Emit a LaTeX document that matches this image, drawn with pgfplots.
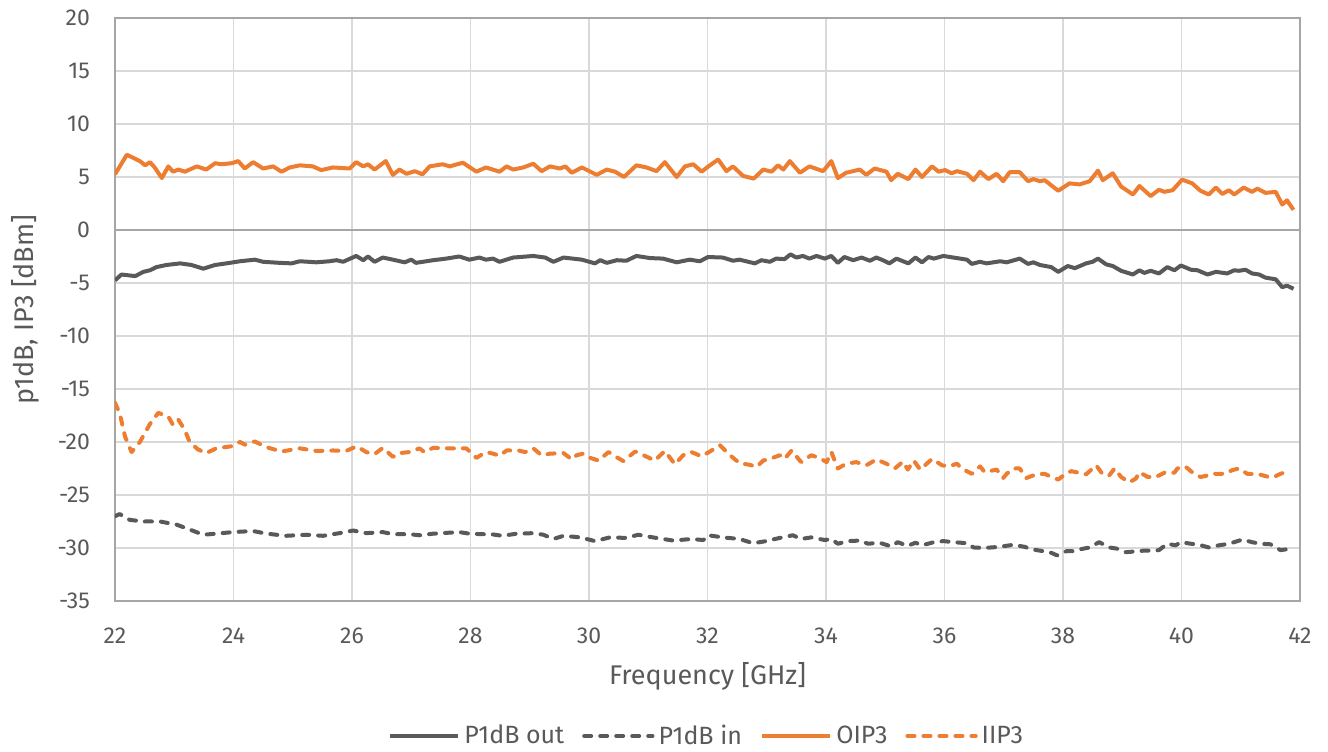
\documentclass[border=0pt]{standalone}
\usepackage{fontspec}
\setmainfont{Fira Sans}
\usepackage{pgfplots}
\usepackage{pgfplotstable}
\pgfplotsset{compat=1.18}

\definecolor{xlgray}{HTML}{595959}
\definecolor{xlorange}{HTML}{ED7D31}
\definecolor{gridc}{HTML}{D9D9D9}
\definecolor{axisc}{HTML}{A6A6A6}
\definecolor{txtc}{HTML}{595959}

% P1dB out
\pgfplotstableread{
f v
22.00 -4.75
22.11 -4.2
22.34 -4.35
22.48 -3.95
22.59 -3.8
22.70 -3.5
22.87 -3.3
23.10 -3.15
23.29 -3.3
23.49 -3.65
23.69 -3.3
23.88 -3.15
24.11 -2.95
24.36 -2.8
24.50 -3.0
24.78 -3.1
24.98 -3.15
25.12 -2.95
25.40 -3.05
25.62 -2.95
25.74 -2.85
25.85 -3.0
26.07 -2.45
26.19 -2.85
26.27 -2.5
26.38 -3.0
26.52 -2.6
26.69 -2.8
26.89 -3.05
27.00 -2.8
27.08 -3.1
27.37 -2.85
27.59 -2.7
27.81 -2.5
27.98 -2.8
28.15 -2.6
28.26 -2.8
28.38 -2.7
28.49 -3.0
28.72 -2.6
29.06 -2.45
29.26 -2.6
29.40 -3.0
29.57 -2.6
29.88 -2.8
30.10 -3.15
30.19 -2.85
30.30 -3.1
30.47 -2.85
30.63 -2.9
30.80 -2.45
31.03 -2.65
31.25 -2.7
31.48 -3.05
31.70 -2.8
31.87 -2.95
32.01 -2.55
32.26 -2.6
32.43 -2.9
32.54 -2.8
32.80 -3.15
32.91 -2.85
33.05 -3.0
33.16 -2.7
33.30 -2.75
33.40 -2.3
33.50 -2.6
33.61 -2.45
33.72 -2.7
33.84 -2.45
33.98 -2.7
34.09 -2.45
34.20 -3.1
34.31 -2.55
34.46 -2.85
34.60 -2.6
34.74 -2.9
34.85 -2.6
34.96 -2.85
35.07 -3.15
35.19 -2.7
35.39 -3.15
35.51 -2.6
35.62 -3.05
35.73 -2.55
35.82 -2.7
35.98 -2.45
36.15 -2.6
36.38 -2.8
36.46 -3.2
36.60 -3.0
36.71 -3.15
36.94 -2.95
37.05 -3.05
37.27 -2.7
37.41 -3.2
37.50 -3.05
37.61 -3.3
37.80 -3.5
37.92 -3.95
38.08 -3.4
38.20 -3.6
38.39 -3.15
38.50 -3.0
38.59 -2.7
38.73 -3.25
38.84 -3.4
38.98 -3.85
39.18 -4.2
39.29 -3.8
39.37 -4.05
39.48 -3.85
39.62 -4.1
39.76 -3.5
39.88 -3.8
39.99 -3.35
40.16 -3.75
40.27 -3.8
40.44 -4.2
40.58 -3.95
40.77 -4.1
40.89 -3.8
40.97 -3.85
41.08 -3.75
41.19 -4.1
41.31 -4.2
41.42 -4.5
41.59 -4.65
41.70 -5.4
41.78 -5.25
41.89 -5.55
}\pout

% P1dB in
\pgfplotstableread{
f v
22.00 -27.0
22.08 -26.8
22.25 -27.35
22.48 -27.5
22.76 -27.5
23.04 -27.8
23.21 -28.15
23.49 -28.75
23.71 -28.65
23.99 -28.5
24.33 -28.4
24.56 -28.65
24.89 -28.85
25.23 -28.75
25.51 -28.85
25.79 -28.6
26.02 -28.35
26.24 -28.6
26.52 -28.5
26.69 -28.7
26.97 -28.7
27.14 -28.8
27.37 -28.65
27.81 -28.5
27.98 -28.65
28.21 -28.7
28.35 -28.7
28.54 -28.85
28.78 -28.65
29.06 -28.6
29.23 -28.75
29.40 -29.15
29.57 -28.85
29.85 -29.0
30.10 -29.35
30.35 -29.0
30.63 -29.05
30.83 -28.75
31.08 -29.0
31.42 -29.3
31.73 -29.15
31.93 -29.25
32.01 -28.8
32.26 -29.0
32.54 -29.15
32.77 -29.55
32.99 -29.35
33.22 -29.05
33.44 -28.8
33.58 -29.15
33.75 -29.0
33.98 -29.25
34.09 -29.15
34.20 -29.6
34.37 -29.35
34.57 -29.3
34.71 -29.6
34.90 -29.5
35.10 -29.85
35.21 -29.45
35.38 -29.8
35.51 -29.5
35.62 -29.75
35.82 -29.45
35.98 -29.35
36.15 -29.45
36.38 -29.55
36.49 -29.95
36.66 -30.0
36.91 -29.9
37.16 -29.7
37.36 -29.9
37.44 -30.1
37.61 -30.25
37.78 -30.4
37.90 -30.7
38.06 -30.3
38.17 -30.3
38.31 -30.1
38.45 -29.95
38.61 -29.45
38.78 -29.95
38.90 -30.05
39.06 -30.4
39.26 -30.3
39.37 -30.25
39.54 -30.25
39.62 -30.2
39.76 -29.6
39.90 -29.75
39.99 -29.45
40.16 -29.6
40.30 -29.7
40.46 -29.95
40.63 -29.75
40.80 -29.6
40.89 -29.45
41.03 -29.2
41.19 -29.45
41.33 -29.6
41.50 -29.65
41.67 -30.2
41.81 -30.1
}\pin

% OIP3
\pgfplotstableread{
f v
22.00 5.25
22.20 7.1
22.31 6.8
22.42 6.5
22.51 6.1
22.59 6.4
22.67 5.9
22.79 4.9
22.90 6.0
22.98 5.5
23.07 5.7
23.18 5.5
23.38 6.0
23.54 5.7
23.69 6.3
23.80 6.2
23.97 6.3
24.08 6.5
24.19 5.8
24.33 6.4
24.50 5.8
24.67 6.0
24.81 5.5
24.95 5.9
25.12 6.1
25.34 6.0
25.48 5.65
25.68 5.9
25.96 5.8
26.07 6.4
26.19 6.0
26.27 6.2
26.38 5.7
26.57 6.5
26.69 5.2
26.80 5.7
26.92 5.3
27.06 5.55
27.19 5.25
27.31 6.0
27.53 6.2
27.65 6.0
27.87 6.35
28.10 5.5
28.26 5.9
28.49 5.5
28.61 6.0
28.72 5.7
28.89 5.9
29.06 6.25
29.20 5.55
29.34 6.0
29.51 5.8
29.60 6.0
29.71 5.4
29.88 5.9
30.13 5.2
30.30 5.7
30.44 5.5
30.59 5.0
30.80 6.1
30.97 5.9
31.14 5.55
31.28 6.4
31.48 5.0
31.62 6.0
31.76 6.2
31.90 5.5
32.04 6.1
32.18 6.65
32.32 5.55
32.43 6.0
32.60 5.1
32.78 4.85
32.94 5.7
33.08 5.5
33.19 6.1
33.28 5.7
33.39 6.5
33.56 5.4
33.72 6.0
33.95 5.55
34.09 6.5
34.20 4.9
34.34 5.4
34.57 5.7
34.68 5.2
34.82 5.8
35.02 5.5
35.10 4.7
35.21 5.3
35.39 4.8
35.51 5.7
35.62 5.0
35.79 6.0
35.90 5.5
36.01 5.65
36.12 5.35
36.21 5.55
36.38 5.3
36.49 4.7
36.60 5.5
36.74 4.8
36.88 5.3
36.99 4.6
37.10 5.45
37.27 5.45
37.41 4.6
37.50 4.8
37.61 4.6
37.69 4.7
37.92 3.7
38.11 4.4
38.28 4.3
38.45 4.6
38.59 5.6
38.67 4.7
38.84 5.35
38.98 4.1
39.18 3.35
39.29 4.15
39.48 3.2
39.62 3.8
39.71 3.6
39.85 3.75
40.01 4.75
40.18 4.4
40.32 3.7
40.46 3.35
40.58 4.0
40.69 3.4
40.80 3.75
40.89 3.35
41.05 4.0
41.19 3.6
41.28 3.9
41.42 3.5
41.59 3.6
41.70 2.4
41.78 2.8
41.89 1.9
}\oip

% IIP3
\pgfplotstableread{
f v
22.00 -16.3
22.08 -17.3
22.17 -19.5
22.28 -20.95
22.42 -20.0
22.59 -18.3
22.73 -17.25
22.90 -17.6
22.98 -18.4
23.07 -17.9
23.18 -18.9
23.26 -20.0
23.40 -20.7
23.54 -21.05
23.71 -20.6
23.97 -20.4
24.11 -20.0
24.19 -20.25
24.36 -19.95
24.56 -20.5
24.81 -20.9
25.12 -20.6
25.40 -20.85
25.68 -20.8
25.90 -20.85
26.08 -20.4
26.24 -20.95
26.38 -21.15
26.52 -20.55
26.69 -21.4
26.80 -21.05
26.97 -20.95
27.14 -20.6
27.22 -20.95
27.37 -20.55
27.65 -20.6
27.93 -20.6
28.10 -21.5
28.26 -20.95
28.38 -21.1
28.49 -21.3
28.61 -20.8
28.81 -20.8
28.92 -20.95
29.06 -20.6
29.20 -21.25
29.34 -21.1
29.57 -21.05
29.71 -21.65
29.79 -21.25
29.90 -21.1
30.02 -21.5
30.16 -21.75
30.33 -20.95
30.44 -21.35
30.58 -21.8
30.78 -20.9
30.92 -21.25
31.11 -21.75
31.28 -20.85
31.45 -22.1
31.59 -21.25
31.73 -20.95
31.90 -21.35
32.04 -20.9
32.21 -20.3
32.38 -21.25
32.54 -22.0
32.71 -22.15
32.83 -22.35
32.94 -21.75
33.05 -21.6
33.22 -21.25
33.30 -21.6
33.42 -20.8
33.58 -21.9
33.75 -21.25
33.89 -21.5
34.01 -21.9
34.09 -20.95
34.20 -22.5
34.34 -22.05
34.51 -21.9
34.68 -22.2
34.85 -21.65
35.02 -22.05
35.16 -22.5
35.30 -21.85
35.38 -22.6
35.48 -21.75
35.59 -22.6
35.79 -21.6
35.96 -22.2
36.07 -22.3
36.21 -22.05
36.29 -22.5
36.46 -23.0
36.60 -22.3
36.68 -22.85
36.88 -22.6
36.99 -23.4
37.05 -23.0
37.16 -22.5
37.27 -22.5
37.38 -23.4
37.55 -23.05
37.69 -23.0
37.80 -23.3
37.92 -23.55
38.03 -23.05
38.14 -22.75
38.39 -23.05
38.56 -22.2
38.67 -23.05
38.78 -23.15
38.87 -22.5
38.98 -23.3
39.12 -23.8
39.23 -23.45
39.29 -22.85
39.43 -23.3
39.57 -23.3
39.71 -22.9
39.88 -22.9
39.93 -22.5
40.06 -22.3
40.18 -22.85
40.32 -23.3
40.41 -23.2
40.55 -23.0
40.72 -23.0
40.86 -22.65
40.97 -22.5
41.11 -23.0
41.31 -23.05
41.47 -23.3
41.56 -23.3
41.67 -23.0
41.81 -22.75
}\iip

\begin{document}
\begin{tikzpicture}
\begin{axis}[
  scale only axis,
  width=592.5pt, height=291.5pt,
  xmin=22, xmax=42, ymin=-35, ymax=20,
  xtick={22,24,...,42}, ytick={-35,-30,...,20},
  major tick length=0pt,
  grid=major,
  grid style={gridc, line width=0.75pt},
  axis line style={axisc, line width=0.75pt},
  extra y ticks={0},
  extra y tick labels={},
  extra y tick style={grid style={axisc, line width=1pt}},
  tick label style={font=\fontsize{11.5}{13}\selectfont, text=txtc},
  /pgf/number format/assume math mode=true,
  xticklabel style={yshift=-10pt},
  yticklabel style={xshift=-9pt},
  xlabel={Frequency [GHz]},
  ylabel={p1dB, IP3 [dBm]},
  label style={font=\fontsize{13.5}{15}\selectfont, text=txtc},
  xlabel style={at={(axis description cs:0.5,0)}, anchor=center, yshift=-37.5pt},
  ylabel style={at={(axis description cs:-0.076,0.5)}, anchor=center},
  legend style={at={(axis description cs:0.5,0)}, anchor=center, yshift=-67.5pt,
    draw=none, legend columns=-1, font=\fontsize{12.5}{14}\selectfont, text=txtc,
    /tikz/every even column/.append style={column sep=7pt}},
  legend image code/.code={\draw[#1] (0cm,0cm) -- (1.2cm,0cm);},
  clip=true,
]
\addplot[xlgray, line width=2pt, line join=round] table[x=f,y=v] {\pout};
\addlegendentry{P1dB out}
\addplot[xlgray, line width=2pt, line cap=round, line join=round, dash pattern=on 3.5pt off 4.5pt] table[x=f,y=v] {\pin};
\addlegendentry{P1dB in}
\addplot[xlorange, line width=2pt, line join=round] table[x=f,y=v] {\oip};
\addlegendentry{OIP3}
\addplot[xlorange, line width=2pt, line cap=round, line join=round, dash pattern=on 3.5pt off 4.5pt] table[x=f,y=v] {\iip};
\addlegendentry{IIP3}
\end{axis}
\pgfresetboundingbox
\path (current axis.south west) ++(-57.5pt,-75.5pt) coordinate (bl);
\path (current axis.north east) ++(14pt,9pt) coordinate (tr);
\path (bl) rectangle (tr);
\end{tikzpicture}
\end{document}
